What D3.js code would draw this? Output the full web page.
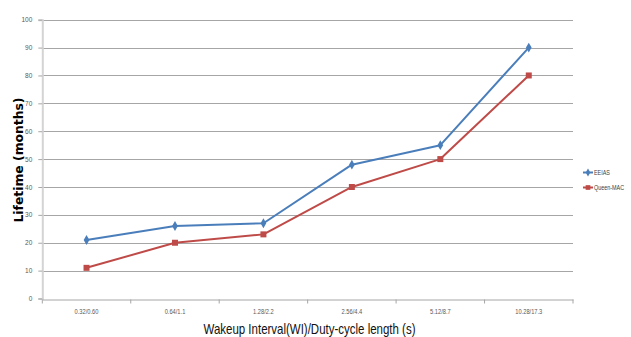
<!DOCTYPE html>
<html>
<head>
<meta charset="utf-8">
<script src="https://cdn.jsdelivr.net/npm/d3@7"></script>
<style>
  html, body { margin: 0; padding: 0; background: #fff; }
  svg { display: block; }
</style>
</head>
<body>
<svg id="chart" width="631" height="337"></svg>
<script>
// Wakeup interval / duty-cycle length categories
const categories = ["0.32/0.60", "0.64/1.1", "1.28/2.2", "2.56/4.4", "5.12/8.7", "10.28/17.3"];
// Lifetime in months per protocol
const eeiasValues = [21, 26, 27, 48, 55, 90];
const queenMacValues = [11, 20, 23, 40, 50, 80];
const yTicks = [0, 10, 20, 30, 40, 50, 60, 70, 80, 90, 100];
const seriesNames = ["EEIAS", "Queen-MAC"];

const series = [
  { name: seriesNames[0], values: eeiasValues, color: "#4a7ebb", marker: "diamond" },
  { name: seriesNames[1], values: queenMacValues, color: "#be4b48", marker: "square" }
];

const svg = d3.select("#chart");
const plotLeft = 42.3, plotRight = 573, plotTop = 19.7, plotBottom = 298.5;

const x = d3.scaleBand().domain(categories).range([plotLeft, plotRight]);
const y = d3.scaleLinear().domain([0, 100]).range([plotBottom, plotTop]);

const labelFont = "'Liberation Sans', Arial, sans-serif";

// squeeze a text element horizontally to a target width
function fitWidth(sel, width) {
  sel.each(function () {
    this.setAttribute("textLength", width);
    this.setAttribute("lengthAdjust", "spacingAndGlyphs");
  });
}

// horizontal gridlines
svg.append("g")
  .selectAll("line")
  .data(yTicks.filter(d => d > 0))
  .join("line")
  .attr("x1", plotLeft).attr("x2", plotRight)
  .attr("y1", d => Math.round(y(d)) + 0.5).attr("y2", d => Math.round(y(d)) + 0.5)
  .attr("stroke", "#a6a6a6").attr("stroke-width", 1);

// y axis
const yAxis = svg.append("g")
  .attr("transform", `translate(${plotLeft},0)`)
  .call(d3.axisLeft(y).tickValues(yTicks).tickSize(4).tickPadding(6));
yAxis.select(".domain").attr("stroke", "#d4d4d4").attr("stroke-width", 2);
yAxis.selectAll(".tick line").attr("stroke", "#a6a6a6");
yAxis.selectAll(".tick text")
  .attr("fill", "#595959").attr("font-size", 6.5).attr("font-family", labelFont);

// x axis with ticks at category boundaries
const xAxis = svg.append("g")
  .attr("transform", `translate(0,${Math.round(plotBottom) + 0.5})`)
  .call(d3.axisBottom(x).tickSize(0).tickPadding(10));
xAxis.select(".domain").attr("stroke", "#a6a6a6").attr("stroke-width", 1);
xAxis.selectAll(".tick text")
  .attr("fill", "#595959").attr("font-size", 6.5).attr("font-family", labelFont)
  .each(function () {
    const w = this.getComputedTextLength();
    fitWidth(d3.select(this), w * 0.88);
  });
xAxis.append("g")
  .selectAll("line")
  .data(d3.range(categories.length + 1))
  .join("line")
  .attr("x1", i => plotLeft + i * x.step()).attr("x2", i => plotLeft + i * x.step())
  .attr("y1", 0).attr("y2", 4)
  .attr("stroke", "#a6a6a6");

// series lines and markers
const line = d3.line()
  .x((d, i) => x(categories[i]) + x.bandwidth() / 2)
  .y(d => y(d));

const diamond = d3.symbol().type(d3.symbolDiamond).size(28);
const square = d3.symbol().type(d3.symbolSquare).size(36);

series.forEach(s => {
  svg.append("path")
    .datum(s.values)
    .attr("d", line)
    .attr("fill", "none")
    .attr("stroke", s.color)
    .attr("stroke-width", 2)
    .attr("stroke-linejoin", "round");
  svg.append("g")
    .selectAll("path")
    .data(s.values)
    .join("path")
    .attr("transform", (d, i) => `translate(${x(categories[i]) + x.bandwidth() / 2},${y(d)})`)
    .attr("d", s.marker === "diamond" ? diamond : square)
    .attr("fill", s.color);
});

// legend
const legendSymbolDiamond = d3.symbol().type(d3.symbolDiamond).size(18);
const legendSymbolSquare = d3.symbol().type(d3.symbolSquare).size(22);
const legend = svg.append("g").attr("transform", "translate(583,172.5)");
series.forEach((s, i) => {
  const g = legend.append("g").attr("transform", `translate(0,${i * 15})`);
  g.append("line").attr("x1", 0).attr("x2", 10).attr("y1", 0).attr("y2", 0)
    .attr("stroke", s.color).attr("stroke-width", 2);
  g.append("path").attr("transform", "translate(5,0)")
    .attr("d", s.marker === "diamond" ? legendSymbolDiamond : legendSymbolSquare).attr("fill", s.color);
  const t = g.append("text").attr("x", 11).attr("y", 2.3)
    .attr("font-size", 6.6).attr("font-family", labelFont).attr("fill", "#404040")
    .text(s.name);
  fitWidth(t, t.node().getComputedTextLength() * 0.82);
});

// axis titles
const yTitle = svg.append("text")
  .attr("transform", "translate(23,160) rotate(-90)")
  .attr("text-anchor", "middle")
  .attr("font-family", "'DejaVu Sans', Verdana, sans-serif")
  .attr("font-weight", "bold")
  .attr("font-size", 11.8)
  .attr("fill", "#000")
  .text("Lifetime (months)");
fitWidth(yTitle, 125);

const xTitle = svg.append("text")
  .attr("x", 309.5).attr("y", 333.5)
  .attr("text-anchor", "middle")
  .attr("font-family", labelFont)
  .attr("font-size", 14.5)
  .attr("fill", "#111")
  .text("Wakeup Interval(WI)/Duty-cycle length (s)");
fitWidth(xTitle, 212);
</script>
</body>
</html>
